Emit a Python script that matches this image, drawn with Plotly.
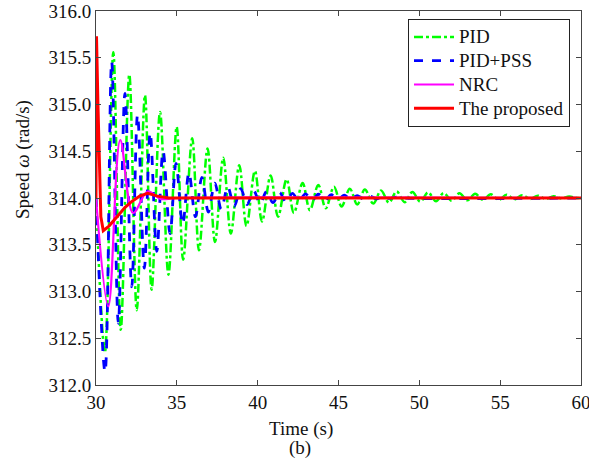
import plotly.graph_objects as go

# ---- data ----
pid_t = [30.0, 30.55, 31.07, 31.53, 32.06, 32.52, 33.03, 33.44, 33.96, 34.48, 34.99, 35.39,
         35.95, 36.37, 36.90, 37.36, 37.87, 38.34, 38.86, 39.31, 39.83, 40.27, 40.80, 41.26,
         41.79, 42.24, 42.78, 43.23, 43.75, 44.21, 44.72, 45.19, 45.70, 46.16, 46.63, 47.15,
         47.63, 48.12, 48.60, 49.09, 49.57, 50.06, 50.54, 51.03, 51.51, 52.00, 52.48, 52.97,
         53.45, 53.94, 54.42, 54.91, 55.39, 55.88, 56.36, 56.85, 57.33, 57.82, 58.30, 58.79,
         59.27, 59.76, 60.0]
pid_w = [314.0, 312.35, 315.56, 312.59, 315.32, 312.80, 315.10, 313.02, 314.92, 313.18, 314.76, 313.34,
         314.64, 313.44, 314.53, 313.53, 314.43, 313.62, 314.35, 313.70, 314.29, 313.75, 314.24, 313.80,
         314.20, 313.84, 314.16, 313.87, 314.14, 313.89, 314.12, 313.91, 314.10, 313.93, 314.09, 313.94,
         314.08, 313.95, 314.07, 313.955, 314.065, 313.96, 314.06, 313.965, 314.055, 313.97, 314.05, 313.975,
         314.045, 313.98, 314.04, 313.98, 314.035, 313.985, 314.03, 313.99, 314.025, 313.99, 314.02, 313.995,
         314.015, 314.0, 314.0]

pss_t = [30.0, 30.56, 30.97, 31.38, 31.79, 32.21, 32.57, 32.99, 33.35, 33.76, 34.15, 34.58,
         34.95, 35.36, 35.75, 36.15, 36.55, 36.95, 37.35, 37.75, 38.15, 38.55, 38.95, 39.35,
         39.75, 40.15, 40.55, 40.95, 41.35, 41.75, 42.15, 42.55, 42.95, 43.35, 43.75, 44.15,
         44.55, 44.95, 45.35, 45.75, 46.15, 46.55, 46.95, 47.35, 47.75, 48.15, 48.55, 49.0, 60.0]
pss_w = [314.0, 312.14, 315.46, 312.66, 315.12, 313.05, 314.89, 313.25, 314.70, 313.43, 314.50, 313.62,
         314.37, 313.72, 314.27, 313.80, 314.22, 313.85, 314.16, 313.88, 314.12, 313.91, 314.10, 313.93,
         314.08, 313.94, 314.07, 313.95, 314.06, 313.96, 314.05, 313.965, 314.045, 313.97, 314.04, 313.975,
         314.035, 313.98, 314.03, 313.985, 314.025, 313.99, 314.02, 313.99, 314.015, 313.995, 314.01, 314.0, 314.0]

nrc_t = [30.0, 30.76, 31.5, 32.3, 33.2, 34.0, 35.0, 60.0]
nrc_w = [314.0, 312.84, 314.62, 313.84, 314.07, 313.99, 314.0, 314.0]

prop_t = [30.0, 30.03, 30.12, 30.3, 30.45, 30.8, 31.3, 31.8, 32.2, 32.7, 33.2, 33.8, 34.5, 60.0]
prop_w = [314.0, 315.73, 315.0, 313.8, 313.65, 313.70, 313.80, 313.90, 313.96, 314.02, 314.05, 314.02, 314.0, 314.0]

series_names = ["PID", "PID+PSS", "NRC", "The proposed"]
x_ticks = [30, 35, 40, 45, 50, 55, 60]
y_ticks = [312.0, 312.5, 313.0, 313.5, 314.0, 314.5, 315.0, 315.5, 316.0]

FONT = "Liberation Serif, Times New Roman, serif"


def legend_label(s):
    # slightly larger glyphs inside a legend whose base font keeps rows compact
    return '<span style="font-size:19px">%s</span>' % s


fig = go.Figure()
fig.add_trace(go.Scatter(x=pid_t, y=pid_w, mode="lines", name=legend_label(series_names[0]),
                         line=dict(color="#00ff00", width=2.5, dash="dashdot", shape="spline", smoothing=1.0)))
fig.add_trace(go.Scatter(x=pss_t, y=pss_w, mode="lines", name=legend_label(series_names[1]),
                         line=dict(color="#0000ff", width=2.8, dash="dash", shape="spline", smoothing=1.0)))
fig.add_trace(go.Scatter(x=nrc_t, y=nrc_w, mode="lines", name=legend_label(series_names[2]),
                         line=dict(color="#ff00ff", width=2.2, shape="spline", smoothing=1.0)))
fig.add_trace(go.Scatter(x=prop_t, y=prop_w, mode="lines", name=legend_label(series_names[3]),
                         line=dict(color="#ff0000", width=3)))

axis_common = dict(showline=True, linecolor="#444", linewidth=1, mirror="ticks",
                   ticks="inside", ticklen=5, tickcolor="#444", showgrid=False, zeroline=False,
                   automargin=False, ticklabeloverflow="allow",
                   tickfont=dict(family=FONT, size=19, color="#111"))

fig.update_xaxes(range=[30, 60], tickvals=x_ticks, ticktext=[str(v) for v in x_ticks], **axis_common)
fig.update_yaxes(range=[312, 316], tickvals=y_ticks, ticktext=["%.1f" % v for v in y_ticks], **axis_common)

fig.update_layout(
    width=589, height=464,
    margin=dict(l=96, r=8, t=11, b=79, pad=0, autoexpand=False),
    paper_bgcolor="white", plot_bgcolor="white",
    font=dict(family=FONT, size=19, color="#111"),
    showlegend=True,
    legend=dict(x=(570 - 96) / 485, y=(385 - 19) / 374, xanchor="right", yanchor="top",
                bgcolor="white", bordercolor="#222", borderwidth=1,
                font=dict(family=FONT, size=16, color="#111"),
                tracegroupgap=0, itemwidth=40),
    annotations=[
        dict(text="Time (s)", xref="paper", yref="paper", x=(301 - 96) / 485, y=(385 - 429) / 374,
             xanchor="center", yanchor="middle", showarrow=False, font=dict(family=FONT, size=19)),
        dict(text="(b)", xref="paper", yref="paper", x=(300 - 96) / 485, y=(385 - 448) / 374,
             xanchor="center", yanchor="middle", showarrow=False, font=dict(family=FONT, size=19)),
        dict(text="Speed <i>ω</i> (rad/s)", xref="paper", yref="paper", x=(23 - 96) / 485,
             y=(385 - 160) / 374, xanchor="center", yanchor="middle", textangle=-90,
             showarrow=False, font=dict(family=FONT, size=19)),
    ],
)

fig.write_html("out.html")
